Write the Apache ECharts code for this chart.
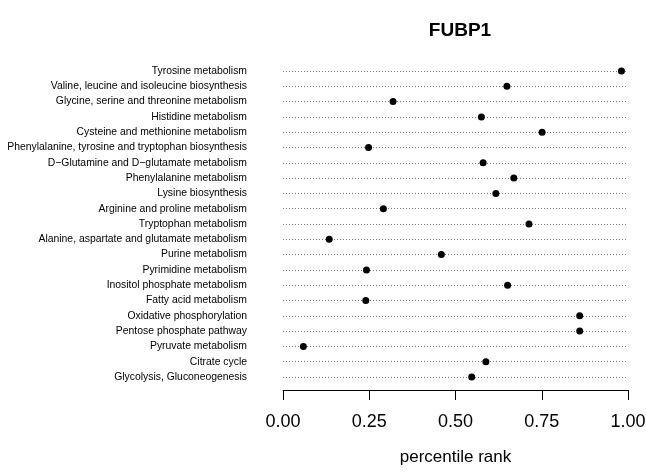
<!DOCTYPE html>
<html>
<head>
<meta charset="utf-8">
<script src="https://cdn.jsdelivr.net/npm/echarts@6/dist/echarts.min.js"></script>
<style>
  html, body { margin: 0; padding: 0; background: #fff; }
  #chart { width: 646px; height: 475px; }
</style>
</head>
<body>
<div id="chart"></div>
<script>
// pathways, top to bottom as drawn
const pathways = [
  'Tyrosine metabolism',
  'Valine, leucine and isoleucine biosynthesis',
  'Glycine, serine and threonine metabolism',
  'Histidine metabolism',
  'Cysteine and methionine metabolism',
  'Phenylalanine, tyrosine and tryptophan biosynthesis',
  'D\u2212Glutamine and D\u2212glutamate metabolism',
  'Phenylalanine metabolism',
  'Lysine biosynthesis',
  'Arginine and proline metabolism',
  'Tryptophan metabolism',
  'Alanine, aspartate and glutamate metabolism',
  'Purine metabolism',
  'Pyrimidine metabolism',
  'Inositol phosphate metabolism',
  'Fatty acid metabolism',
  'Oxidative phosphorylation',
  'Pentose phosphate pathway',
  'Pyruvate metabolism',
  'Citrate cycle',
  'Glycolysis, Gluconeogenesis'
];

const percentileRank = [
  0.981, 0.649, 0.319, 0.575, 0.751, 0.248, 0.580, 0.669, 0.617, 0.291, 0.713,
  0.134, 0.459, 0.242, 0.651, 0.240, 0.860, 0.860, 0.059, 0.588, 0.547
];

const xTicks = [0, 0.25, 0.5, 0.75, 1];

const chart = echarts.init(document.getElementById('chart'));

const option = {
  animation: false,
  backgroundColor: '#fff',
  textStyle: { fontFamily: 'Liberation Sans, Arial, sans-serif' },
  title: {
    text: 'FUBP1',
    left: 455,
    top: 16,
    textAlign: 'center',
    textStyle: { fontSize: 19, fontWeight: 'bold', color: '#000' }
  },
  grid: {
    left: 283,
    right: 18,
    top: 71,
    height: 306,
    outerBoundsMode: 'none'
  },
  xAxis: {
    type: 'value',
    min: 0,
    max: 1,
    interval: 0.25,
    offset: 13,
    name: 'percentile rank',
    nameLocation: 'middle',
    nameGap: 59,
    nameTextStyle: { fontSize: 17, color: '#000' },
    axisLine: { show: true, lineStyle: { color: '#000', width: 1 } },
    axisTick: { show: true, length: 10, lineStyle: { color: '#000' } },
    axisLabel: {
      fontSize: 18,
      color: '#000',
      margin: 23,
      formatter: v => xTicks.includes(v) ? v.toFixed(2) : ''
    },
    splitLine: { show: false }
  },
  yAxis: {
    type: 'category',
    data: pathways,
    inverse: true,
    boundaryGap: false,
    axisLine: { show: false },
    axisTick: { show: false },
    axisLabel: { fontSize: 10.4, color: '#000', margin: 36 },
    splitLine: {
      show: true,
      lineStyle: { color: '#777', width: 1, type: [1, 2] }
    }
  },
  series: [{
    type: 'scatter',
    data: percentileRank,
    symbol: 'circle',
    symbolSize: 7,
    itemStyle: { color: '#000', opacity: 1 }
  }]
};

chart.setOption(option);
</script>
</body>
</html>
